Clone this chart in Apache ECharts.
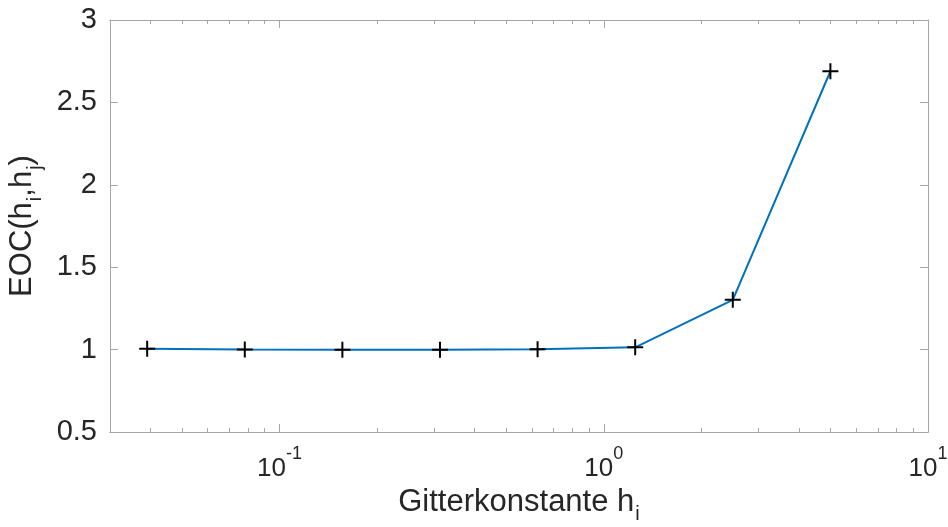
<!DOCTYPE html>
<html>
<head>
<meta charset="utf-8">
<script src="https://cdn.jsdelivr.net/npm/echarts@6/dist/echarts.min.js"></script>
<style>
  html, body { margin: 0; padding: 0; background: #fff; }
  #chart { width: 948px; height: 527px; }
</style>
</head>
<body>
<div id="chart"></div>
<script>
// Grid spacing h_i and the experimental order of convergence between neighbours
const gridSpacing = [0.0390625, 0.078125, 0.15625, 0.3125, 0.625, 1.25, 2.5, 5];
const eocValues = [1.005, 1.0, 0.999, 0.999, 1.002, 1.014, 1.302, 2.689];

// Tick positions on the logarithmic x axis
const majorTicksX = [0.1, 1, 10];
const minorTicksX = [0.04, 0.05, 0.06, 0.07, 0.08, 0.09,
                     0.2, 0.3, 0.4, 0.5, 0.6, 0.7, 0.8, 0.9,
                     2, 3, 4, 5, 6, 7, 8, 9];
const decadeExponents = { '0.1': '-1', '1': '0', '10': '1' };

const X_MIN = 0.03, X_MAX = 10;
const Y_MIN = 0.5, Y_MAX = 3, Y_STEP = 0.5;

const axisGray = '#a6a6a6';
const textColor = '#262626';
const fontFamily = 'Liberation Sans, Arial, Helvetica, sans-serif';

function logAxis(opts) {
  return Object.assign({
    type: 'log',
    logBase: 10,
    min: X_MIN,
    max: X_MAX,
    axisLine: { show: true, onZero: false, lineStyle: { color: axisGray, width: 1 } },
    splitLine: { show: false },
    minorTick: { show: false },
    axisLabel: { show: false },
    axisTick: { show: false }
  }, opts);
}

const chart = echarts.init(document.getElementById('chart'), null, { renderer: 'canvas' });

const titleRich = {
  t: { fontSize: 31, color: textColor, fontFamily: fontFamily, verticalAlign: 'top' },
  sub: { fontSize: 20, color: textColor, fontFamily: fontFamily, verticalAlign: 'top', padding: [18, 0, 0, 1] }
};

const option = {
  animation: false,
  backgroundColor: '#ffffff',
  grid: { left: 110, right: 20, top: 20, bottom: 95, containLabel: false, outerBoundsMode: 'none' },
  xAxis: [
    logAxis({
      position: 'bottom',
      name: '{t|Gitterkonstante h}{sub|i}',
      nameLocation: 'middle',
      nameGap: 45,
      nameTextStyle: { rich: titleRich },
      axisTick: { show: true, inside: true, length: 8, customValues: majorTicksX,
                  lineStyle: { color: axisGray } },
      axisLabel: {
        show: true,
        customValues: majorTicksX,
        margin: 13,
        formatter: function (v) {
          const key = String(+v.toPrecision(6));
          return '{b|10}{s|' + (decadeExponents[key] || '') + '}';
        },
        rich: {
          b: { fontSize: 26, color: textColor, fontFamily: fontFamily, verticalAlign: 'bottom', padding: [11, 0, 0, 0] },
          s: { fontSize: 18, color: textColor, fontFamily: fontFamily, verticalAlign: 'top' }
        }
      }
    }),
    logAxis({
      position: 'bottom',
      axisTick: { show: true, inside: true, length: 4, customValues: minorTicksX,
                  lineStyle: { color: axisGray } }
    }),
    logAxis({
      position: 'top',
      axisTick: { show: true, inside: true, length: 8, customValues: majorTicksX,
                  lineStyle: { color: axisGray } }
    }),
    logAxis({
      position: 'top',
      axisTick: { show: true, inside: true, length: 4, customValues: minorTicksX,
                  lineStyle: { color: axisGray } }
    })
  ],
  yAxis: [
    {
      type: 'value',
      position: 'left',
      min: Y_MIN, max: Y_MAX, interval: Y_STEP,
      name: '{t|EOC(h}{sub|i}{t|,h}{sub|j}{t|)}',
      nameLocation: 'middle',
      nameRotate: 90,
      nameGap: 65,
      nameTextStyle: { rich: titleRich },
      axisLine: { show: true, lineStyle: { color: axisGray, width: 1 } },
      axisTick: { show: true, inside: true, length: 8, lineStyle: { color: axisGray } },
      axisLabel: { show: true, margin: 13, fontSize: 29, color: textColor, fontFamily: fontFamily,
                   formatter: function (v) { return String(v); } },
      splitLine: { show: false }
    },
    {
      type: 'value',
      position: 'right',
      min: Y_MIN, max: Y_MAX, interval: Y_STEP,
      axisLine: { show: true, lineStyle: { color: axisGray, width: 1 } },
      axisTick: { show: true, inside: true, length: 8, lineStyle: { color: axisGray } },
      axisLabel: { show: false },
      splitLine: { show: false }
    }
  ],
  series: [
    {
      type: 'line',
      xAxisIndex: 0,
      yAxisIndex: 0,
      data: gridSpacing.map((h, i) => [h, eocValues[i]]),
      lineStyle: { color: '#0072BD', width: 2 },
      symbol: 'path://M0,-1L0,1M-1,0L1,0',
      symbolSize: 16,
      itemStyle: { color: 'none', borderColor: '#000000', borderWidth: 2 },
      showSymbol: true,
      z: 3
    }
  ]
};

chart.setOption(option);
</script>
</body>
</html>
